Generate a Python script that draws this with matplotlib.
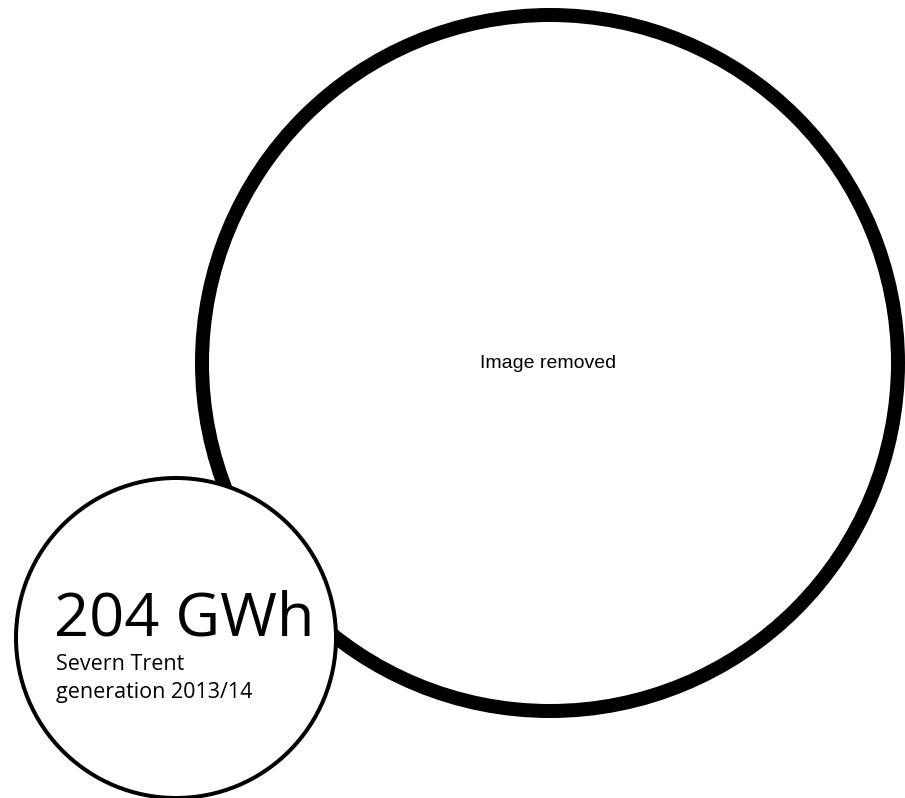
import matplotlib.pyplot as plt
from matplotlib.patches import Circle

# figures shown in the graphic
generation_value = 204
generation_unit = "GWh"
caption_lines = ["Severn Trent", "generation 2013/14"]
placeholder_text = "Image removed"

W, H = 905, 798
PX = 72 / 100  # points per pixel at dpi 100

fig = plt.figure(figsize=(W / 100, H / 100), dpi=100)
ax = fig.add_axes([0, 0, 1, 1])
ax.set_xlim(0, W)
ax.set_ylim(H, 0)
ax.axis('off')

# big ring (photo placeholder)
big = Circle((550, 363), 348, facecolor='white', edgecolor='black', linewidth=14 * PX, zorder=1)
ax.add_patch(big)
ax.text(548, 368, placeholder_text, family='Liberation Sans', fontsize=19.5 * PX,
        ha='center', va='baseline', zorder=2)

# small circle with the headline number
small = Circle((176, 638), 160, facecolor='white', edgecolor='black', linewidth=4 * PX, zorder=3)
ax.add_patch(small)

ax.text(54, 635, f"{generation_value} {generation_unit}", family='Open Sans', fontsize=61.5 * PX,
        ha='left', va='baseline', zorder=4)
for i, line in enumerate(caption_lines):
    ax.text(56, 670 + i * 28, line, family='Open Sans', fontsize=21.5 * PX,
            ha='left', va='baseline', zorder=4)

fig.savefig('out.png', dpi=100, facecolor='white')
plt.close(fig)
